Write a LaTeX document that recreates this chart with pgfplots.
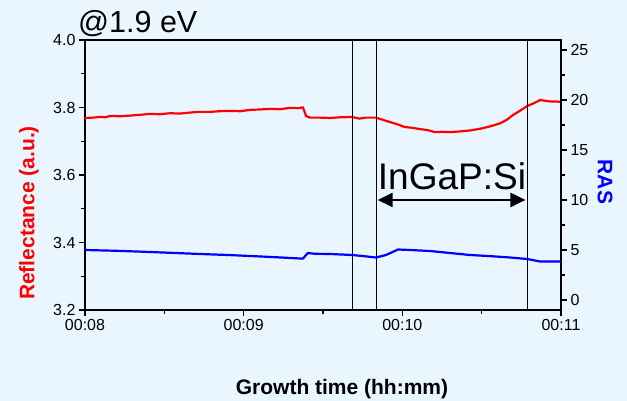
\documentclass[border=0pt]{standalone}
\usepackage{fontspec}
\setmainfont{Liberation Sans}
\usepackage{pgfplots}
\pgfplotsset{compat=1.18}
\usetikzlibrary{arrows.meta}
\definecolor{bg}{RGB}{234,246,255}
\begin{document}
\begin{tikzpicture}[x=1pt,y=1pt]
\path[use as bounding box] (0,0) rectangle (627,401);
\fill[bg] (0,0) rectangle (627,401);
\begin{axis}[
  at={(85pt,91pt)}, anchor=south west, scale only axis,
  width=476pt, height=270pt,
  xmin=8, xmax=11, ymin=3.2, ymax=4.0,
  xtick={8,9,10,11}, xticklabels={00:08,00:09,00:10,00:11},
  minor xtick={8.5,9.5,10.5},
  ytick={3.2,3.4,3.6,3.8,4.0}, minor ytick={3.3,3.5,3.7,3.9},
  yticklabel style={/pgf/number format/.cd,fixed,fixed zerofill,precision=1},
  /pgf/number format/assume math mode=true,
  xtick pos=bottom, ytick pos=left,
  tick align=outside, major tick length=6pt, minor tick length=4pt,
  every tick/.style={black, line width=1.2pt},
  ticklabel style={font=\fontsize{16}{18}\selectfont},
  x axis line style={black!75, line width=1.8pt},
  y axis line style={black, line width=1.6pt},
  axis background/.style={fill=none},
]
\addplot[red, line width=2.2pt] coordinates {
(8.000,3.769) (8.050,3.770) (8.095,3.772) (8.130,3.771) (8.158,3.775) (8.220,3.774) (8.284,3.776) (8.340,3.778) (8.410,3.781) (8.470,3.780) (8.536,3.783) (8.600,3.782) (8.662,3.785) (8.720,3.787) (8.788,3.787) (8.850,3.789) (8.914,3.790) (8.980,3.789) (9.040,3.793) (9.100,3.794) (9.166,3.796) (9.230,3.795) (9.292,3.799) (9.340,3.798) (9.374,3.800) (9.393,3.775) (9.418,3.770) (9.480,3.770) (9.544,3.769) (9.610,3.771) (9.683,3.772) (9.730,3.767) (9.765,3.770) (9.834,3.770) (9.880,3.763) (9.922,3.757) (9.970,3.750) (10.017,3.742) (10.060,3.740) (10.111,3.736) (10.160,3.733) (10.206,3.727) (10.250,3.728) (10.300,3.727) (10.360,3.729) (10.427,3.732) (10.490,3.737) (10.553,3.744) (10.616,3.753) (10.660,3.764) (10.698,3.778) (10.740,3.790) (10.786,3.804) (10.830,3.813) (10.868,3.822) (10.931,3.818) (10.970,3.818) (11.000,3.816)
};
\addplot[black, line width=0.8pt] coordinates {(9.683,3.2) (9.683,4.0)};
\addplot[black, line width=0.8pt] coordinates {(9.834,3.2) (9.834,4.0)};
\addplot[black, line width=0.8pt] coordinates {(10.786,3.2) (10.786,4.0)};
\draw[{Triangle[length=15pt,width=14pt]}-{Triangle[length=15pt,width=14pt]}, line width=2.4pt]
  (axis cs:9.845,3.526) -- (axis cs:10.776,3.526);
\node[anchor=base, font=\fontsize{37}{40}\selectfont] at (axis cs:10.313,3.5585) {InGaP:Si};
\end{axis}
\begin{axis}[
  at={(85pt,91pt)}, anchor=south west, scale only axis,
  width=476pt, height=270pt,
  xmin=8, xmax=11, ymin=-1, ymax=26,
  axis y line*=right, axis x line=none,
  ytick={0,5,10,15,20,25}, minor ytick={2.5,7.5,12.5,17.5,22.5},
  /pgf/number format/assume math mode=true,
  tick align=outside, major tick length=6pt, minor tick length=4pt,
  every tick/.style={black, line width=1.2pt},
  ticklabel style={font=\fontsize{16}{18}\selectfont},
  y axis line style={black, line width=1.6pt},
]
\addplot[blue, line width=2.2pt] coordinates {
(8.000,5.00) (8.200,4.92) (8.410,4.80) (8.600,4.68) (8.725,4.60) (8.900,4.50) (9.040,4.40) (9.200,4.28) (9.355,4.15) (9.374,4.15) (9.405,4.70) (9.450,4.62) (9.544,4.60) (9.683,4.50) (9.760,4.38) (9.834,4.25) (9.897,4.50) (9.973,5.05) (10.048,5.00) (10.174,4.90) (10.300,4.70) (10.426,4.50) (10.560,4.38) (10.678,4.25) (10.786,4.10) (10.868,3.85) (11.000,3.85)
};
\end{axis}
\node[rotate=90, text=red, font=\bfseries\fontsize{21}{24}\selectfont] at (29,188) {Reflectance (a.u.)};
\node[rotate=-90, text=blue, font=\bfseries\fontsize{21}{24}\selectfont] at (605,219) {RAS};
\node[anchor=base, font=\bfseries\fontsize{21}{24}\selectfont] at (342,6) {Growth time (hh:mm)};
\node[anchor=base west, inner sep=0pt, font=\fontsize{30.5}{33}\selectfont] at (78,368) {@1.9 eV};
\end{tikzpicture}
\end{document}
